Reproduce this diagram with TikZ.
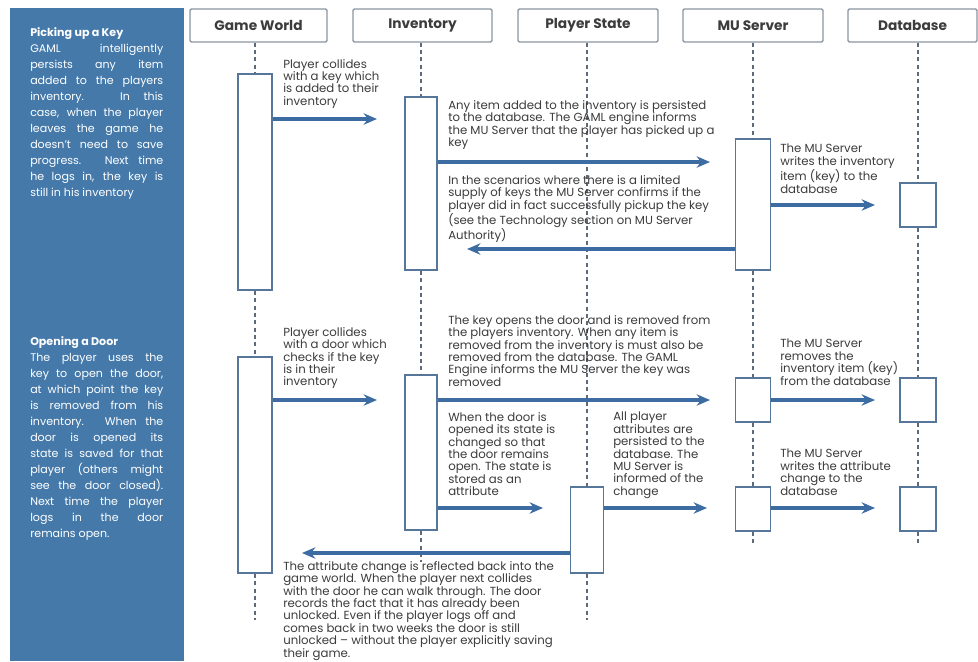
\documentclass[tikz,border=0pt]{standalone}
\usepackage{fontspec}
\setmainfont{Poppins}
\usetikzlibrary{arrows.meta}
\definecolor{panel}{HTML}{4479AA}
\definecolor{flow}{HTML}{3D6CA3}
\definecolor{actline}{HTML}{56769A}
\definecolor{lifec}{HTML}{5C6A7C}
\definecolor{headline}{HTML}{8C96A0}
\definecolor{ink}{HTML}{3C3C3C}
% one justified sidebar line
\newcommand\jline[1]{\makebox[99.75pt][s]{#1}}
\begin{document}
\begin{tikzpicture}[x=0.75pt,y=-0.75pt,
  header/.style={draw=headline, line width=1pt, rounded corners=1pt, fill=white,
    minimum width=#1*0.75pt, minimum height=33*0.75pt, inner sep=0pt,
    font=\fontsize{10.3}{11}\selectfont\bfseries, text=ink},
  act/.style 2 args={draw=actline, line width=1.3pt, fill=white,
    minimum width=#1*0.75pt, minimum height=#2*0.75pt, inner sep=0pt},
  msg/.style={draw=flow, line width=2.3pt, -{Stealth[length=10pt,width=8.5pt]}},
  life/.style={draw=lifec, line width=1pt, dash pattern=on 3pt off 2.5pt},
  note/.style={font=\fontsize{8.8}{9.3}\selectfont, text=ink, align=left,
    inner sep=0pt, anchor=north west},
  side/.style={font=\fontsize{8.3}{12}\selectfont, text=white, align=left,
    inner sep=0pt, anchor=north west}]
\useasboundingbox[fill=white] (0,0) rectangle (978,661);

% left description panel
\fill[panel] (10,8) rectangle (184,661);
\node[side] (sideA) at (30,27) {{\bfseries Picking up a Key}\\
  \jline{GAML intelligently}\\
  \jline{persists any item}\\
  \jline{added to the players}\\
  \jline{inventory.  In this}\\
  \jline{case, when the player}\\
  \jline{leaves the game he}\\
  \jline{doesn't need to save}\\
  \jline{progress.  Next time}\\
  \jline{he logs in, the key is}\\
  still in his inventory};
\node[side] (sideB) at (30,336) {{\bfseries Opening a Door}\\
  \jline{The player uses the}\\
  \jline{key to open the door,}\\
  \jline{at which point the key}\\
  \jline{is removed from his}\\
  \jline{inventory.  When the}\\
  \jline{door is opened its}\\
  \jline{state is saved for that}\\
  \jline{player (others might}\\
  \jline{see the door closed).}\\
  \jline{Next time the player}\\
  \jline{logs in the door}\\
  remains open.};

% participants
\node[header=137] (gw) at (258.5,25.5) {Game World};
\node[header=139] (inv) at (422.5,25.5) {Inventory};
\node[header=140] (ps) at (588,25.5) {Player State};
\node[header=140] (mu) at (753,25.5) {MU Server};
\node[header=129] (db) at (912.5,25.5) {Database};

% activation bars
\node[act={34}{216}] (gw1) at (255,182) {};
\node[act={32}{173}] (inv1) at (421,183.5) {};
\node[act={35}{131}] (mu1) at (753,204.5) {};
\node[act={36}{44}] (db1) at (918,205) {};
\node[act={34}{216}] (gw2) at (255,465) {};
\node[act={32}{155}] (inv2) at (421,452.5) {};
\node[act={33}{86}] (ps1) at (587,530) {};
\node[act={35}{44}] (mu2) at (753,400) {};
\node[act={36}{44}] (db2) at (918,400) {};
\node[act={35}{44}] (mu3) at (753,509) {};
\node[act={36}{44}] (db3) at (918,509) {};

% lifeline ends
\coordinate (gwEnd) at (255,620);
\coordinate (invEnd) at (421,562);
\coordinate (psEnd) at (587,620);
\coordinate (muEnd) at (753,545);
\coordinate (dbEnd) at (918,545);

% lifelines
\draw[life] (gw.south -| gw1.north) -- (gw1.north);
\draw[life] (gw1.south) -- (gw2.north);
\draw[life] (gw2.south) -- (gwEnd);
\draw[life] (inv.south -| inv1.north) -- (inv1.north);
\draw[life] (inv1.south) -- (inv2.north);
\draw[life] (inv2.south) -- (invEnd);
\draw[life] (ps.south -| ps1.north) -- (ps1.north);
\draw[life] (ps1.south) -- (psEnd);
\draw[life] (mu.south -| mu1.north) -- (mu1.north);
\draw[life] (mu1.south) -- (mu2.north);
\draw[life] (mu2.south) -- (mu3.north);
\draw[life] (mu3.south) -- (muEnd);
\draw[life] (db.south -| db1.north) -- (db1.north);
\draw[life] (db1.south) -- (db2.north);
\draw[life] (db2.south) -- (db3.north);
\draw[life] (db3.south) -- (dbEnd);

% message tips
\coordinate (m1) at (377,119);
\coordinate (m2) at (710,162);
\coordinate (m3) at (467,249);
\coordinate (m4) at (875,205);
\coordinate (m5) at (377,400);
\coordinate (m6) at (710,400);
\coordinate (m7) at (875,400);
\coordinate (m8) at (543,508);
\coordinate (m9) at (707,508);
\coordinate (m10) at (875,508);
\coordinate (m11) at (302,553);

% messages
\draw[msg] (gw1.east |- m1) -- (m1);
\draw[msg] (inv1.east |- m2) -- (m2);
\draw[msg] (mu1.west |- m3) -- (m3);
\draw[msg] (mu1.east |- m4) -- (m4);
\draw[msg] (gw2.east |- m5) -- (m5);
\draw[msg] (inv2.east |- m6) -- (m6);
\draw[msg] (mu2.east |- m7) -- (m7);
\draw[msg] (inv2.east |- m8) -- (m8);
\draw[msg] (ps1.east |- m9) -- (m9);
\draw[msg] (mu3.east |- m10) -- (m10);
\draw[msg] (ps1.west |- m11) -- (m11);

% annotations
\node[note] (t1) at (283,59) {Player collides\\with a key which\\is added to their\\inventory};
\node[note] (t2) at (448,100) {Any item added to the inventory is persisted\\to the database.  The GAML engine informs\\the MU Server that the player has picked up a\\key};
\node[note] (t3) at (448,175) {In the scenarios where there is a limited\\supply of keys the MU Server confirms if the\\player did in fact successfully pickup the key\\(see the Technology section on MU Server\\Authority)};
\node[note] (t4) at (780,144) {The MU Server\\writes the inventory\\item (key) to the\\database};
\node[note] (t5) at (283,327) {Player collides\\with a door which\\checks if the key\\is in their\\inventory};
\node[note] (t6) at (448,315) {The key opens the door and is removed from\\the players inventory.  When any item is\\removed from the inventory is must also be\\removed from the database.  The GAML\\Engine informs the MU Server the key was\\removed};
\node[note] (t7) at (780,339) {The MU Server\\removes the\\inventory item (key)\\from the database};
\node[note] (t8) at (448,412) {When the door is\\opened its state is\\changed so that\\the door remains\\open.  The state is\\stored as an\\attribute};
\node[note] (t9) at (613,412) {All player\\attributes are\\persisted to the\\database.  The\\MU Server is\\informed of the\\change};
\node[note] (t10) at (780,449) {The MU Server\\writes the attribute\\change to the\\database};
\node[note] (t11) at (283,561) {The attribute change is reflected back into the\\game world.  When the player next collides\\with the door he can walk through.  The door\\records the fact that it has already been\\unlocked.  Even if the player logs off and\\comes back in two weeks the door is still\\unlocked \textendash{} without the player explicitly saving\\their game.};
\end{tikzpicture}
\end{document}
